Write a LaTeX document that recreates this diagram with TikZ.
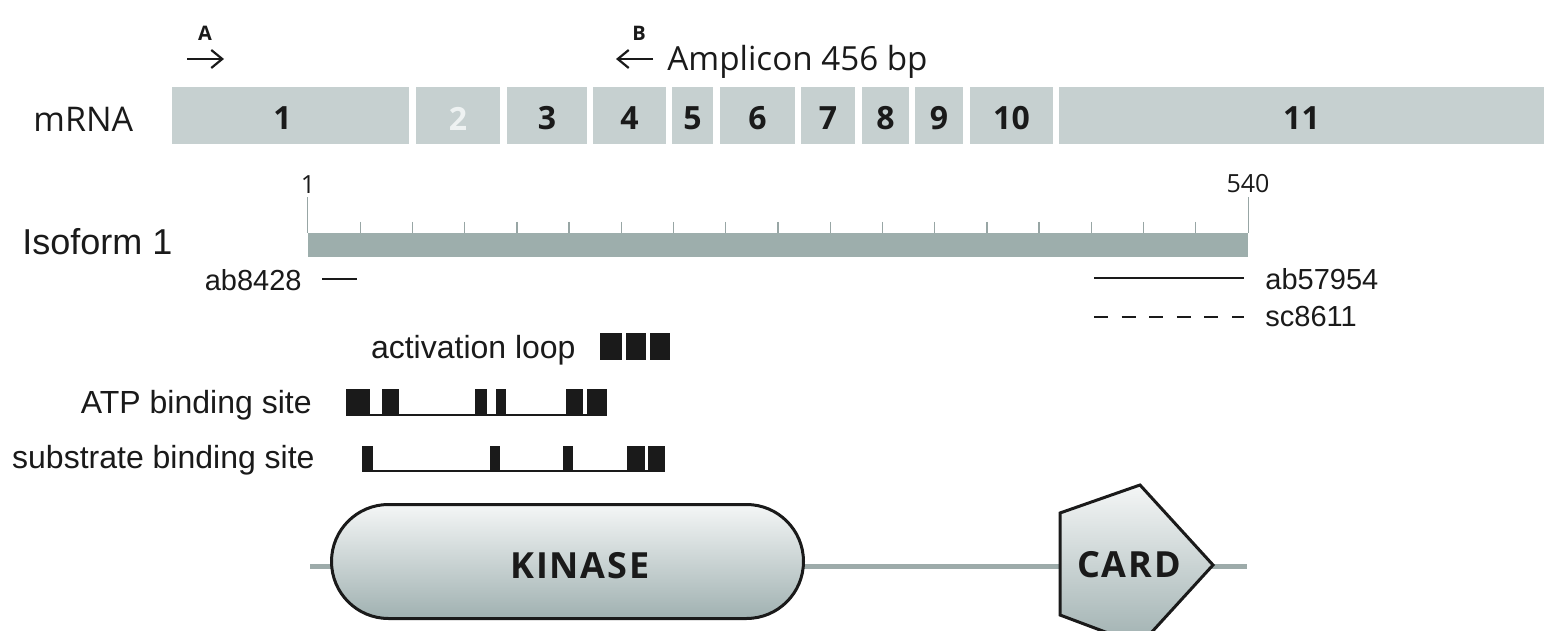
\documentclass[tikz,border=0pt]{standalone}
\usepackage{fontspec}
\newfontfamily\hum{Open Sans}
\newfontfamily\humwide{Open Sans}[LetterSpace=5]
\newfontfamily\ari{Liberation Sans}
\usetikzlibrary{arrows.meta,shapes.misc,fit}

\definecolor{exongrey}{HTML}{C6D0D0}
\definecolor{exonpale}{HTML}{EEF2F2}
\definecolor{rulerbar}{HTML}{9DAEAC}
\definecolor{tickgrey}{HTML}{98A6A5}
\definecolor{chain}{HTML}{9DABAA}
\definecolor{domtop}{HTML}{F4F6F6}
\definecolor{dombot}{HTML}{A0B1B1}
\definecolor{ink}{HTML}{1A1A1A}

\begin{document}
\begin{tikzpicture}[x=0.5pt,y=-0.5pt,
  exon/.style={fill=exongrey,inner sep=0pt},
  exonnum/.style={inner sep=0pt,yshift=-1.5pt,text=ink,font=\hum\bfseries\fontsize{16}{16}\selectfont},
  primerlbl/.style={inner sep=0pt,text=ink,font=\hum\bfseries\fontsize{10}{10}\selectfont},
  primer/.style={line width=1.1pt,draw=ink,-{Straight Barb[length=5.5pt,width=9pt,line width=1.1pt]}},
  humlbl/.style={inner sep=0pt,text=ink,font=\hum\fontsize{17}{17}\selectfont},
  rulelbl/.style={inner sep=0pt,text=ink,font=\hum\fontsize{12.5}{12.5}\selectfont},
  arilbl/.style={inner sep=0pt,text=ink,font=\ari\fontsize{16}{16}\selectfont},
  ablbl/.style={inner sep=0pt,text=ink,font=\ari\fontsize{14.5}{14.5}\selectfont},
  rulertick/.style={draw=tickgrey,line width=0.7pt},
  antibody/.style={draw=ink,line width=1.2pt},
  site/.style={fill=ink},
  siteline/.style={draw=ink,line width=0.8pt},
  protdomain/.style={draw=ink,line width=1.5pt,top color=domtop,bottom color=dombot},
  domlbl/.style={inner sep=0pt,text=ink,font=\humwide\bfseries\fontsize{18}{18}\selectfont},
  chainline/.style={draw=chain,line width=2.5pt}
]
\useasboundingbox (0,0) rectangle (1544,631);
\fill[white] (0,0) rectangle (1544,631);

% ---- primers and amplicon ----
\node[primerlbl] (pa) at (205,33) {A};
\coordinate (pa1) at (187,59);
\coordinate (pa2) at (224,59);
\draw[primer] (pa1) -- (pa2);
\node[primerlbl] (pb) at (639,33) {B};
\coordinate (pb1) at (653,59);
\coordinate (pb2) at (616,59);
\draw[primer] (pb1) -- (pb2);
\node[humlbl,anchor=base west,font=\hum\fontsize{16.6}{16.6}\selectfont] (amp) at (667,71) {Amplicon 456 bp};

% ---- mRNA exons ----
\node[humlbl,anchor=base west] (mrna) at (33,132) {mRNA};
\node[exon,fit={(172,87) (409,144)},label={[exonnum,xshift=-4pt]center:1}] (e1) {};
\node[exon,fit={(416,87) (500,144)},label={[exonnum,text=exonpale]center:2}] (e2) {};
\node[exon,fit={(507,87) (587,144)},label={[exonnum]center:3}] (e3) {};
\node[exon,fit={(593,87) (666,144)},label={[exonnum]center:4}] (e4) {};
\node[exon,fit={(672,87) (713,144)},label={[exonnum]center:5}] (e5) {};
\node[exon,fit={(720,87) (795,144)},label={[exonnum]center:6}] (e6) {};
\node[exon,fit={(801,87) (855,144)},label={[exonnum]center:7}] (e7) {};
\node[exon,fit={(862,87) (909,144)},label={[exonnum]center:8}] (e8) {};
\node[exon,fit={(915,87) (963,144)},label={[exonnum]center:9}] (e9) {};
\node[exon,fit={(970,87) (1053,144)},label={[exonnum]center:10}] (e10) {};
\node[exon,fit={(1059,87) (1544,144)},label={[exonnum]center:11}] (e11) {};

% ---- isoform ruler ----
\node[inner sep=0pt,anchor=base west,text=ink,font=\ari\fontsize{18}{18}\selectfont] (iso) at (22,255) {Isoform 1};
\node[fill=rulerbar,inner sep=0pt,fit={(308,233) (1248,257)}] (bar) {};
\foreach \i in {1,...,17} \draw[rulertick] ({308+\i*940/18},222) -- ({308+\i*940/18},233);
\draw[rulertick] (bar.north west) -- ++(0,-36);
\draw[rulertick] (bar.north east) -- ++(0,-36);
\node[rulelbl] (r1) at (308,185) {1};
\node[rulelbl] (r540) at (1248,184) {540};

% ---- antibodies ----
\node[ablbl,anchor=base east] (ab1) at (302,291) {ab8428};
\coordinate (ab1a) at (322,279);
\coordinate (ab1b) at (357,279);
\draw[antibody] (ab1a) -- (ab1b);
\node[ablbl,anchor=base west] (ab2) at (1265,290) {ab57954};
\coordinate (ab2a) at (1094,278);
\coordinate (ab2b) at (1244,278);
\draw[antibody] (ab2a) -- (ab2b);
\node[ablbl,anchor=base west] (sc) at (1265,327) {sc8611};
\coordinate (sca) at (1094,317);
\coordinate (scb) at (1244,317);
\draw[antibody,dash pattern=on 7pt off 6.8pt] (sca) -- (scb);

% ---- functional sites ----
\node[arilbl,anchor=base east] (actl) at (576,358) {activation loop};
\foreach \a/\b in {600/622,626/646,650/670} \fill[site] (\a,333) rectangle (\b,360);

\node[arilbl,anchor=base east] (atpl) at (312,413) {ATP binding site};
\draw[siteline] (346,415) -- (607,415);
\foreach \a/\b in {346/370,382/399,475/487,496/506,566/583,587/607} \fill[site] (\a,389) rectangle (\b,416);

\node[arilbl,anchor=base east] (subl) at (315,468) {substrate binding site};
\draw[siteline] (362,471) -- (665,471);
\foreach \a/\b in {362/373,490/500,563/573,627/645,648/665} \fill[site] (\a,446) rectangle (\b,472);

% ---- domain structure ----
\coordinate (cl) at (310,566);
\coordinate (cr) at (1247,566);
\draw[chainline] (cl) -- (cr);
\node[protdomain,rounded rectangle,minimum width=236pt,minimum height=57pt,inner sep=0pt] (kin) at (567.5,561.5) {};
\node[domlbl] (kinl) at (580,566) {KINASE};
\begin{scope}
  \clip (0,0) rectangle (1544,631);
  \path[protdomain] (1060,513) -- (1140,485) -- (1213,565) -- (1140,645) -- (1060,615) -- cycle;
\end{scope}
\node[domlbl] (card) at (1129,565) {CARD};
\end{tikzpicture}
\end{document}
